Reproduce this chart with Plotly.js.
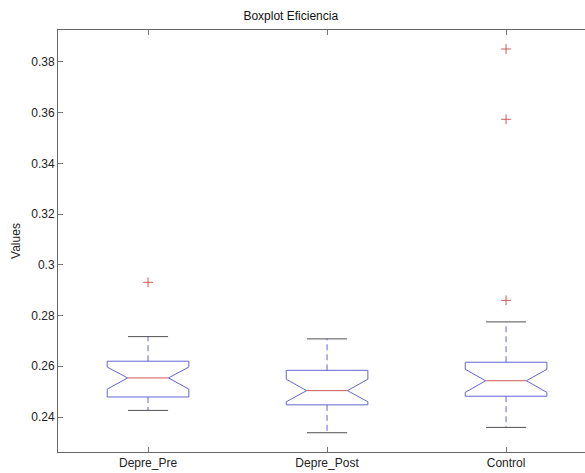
<!DOCTYPE html>
<html>
<head>
<meta charset="utf-8">
<script src="https://cdn.plot.ly/plotly-3.0.1.min.js"></script>
<style>html,body{margin:0;padding:0;background:#fff;}#chart{width:585px;height:473px;}</style>
</head>
<body>
<div id="chart"></div>
<script>
// ---- data ----
const categories = ['Depre_Pre', 'Depre_Post', 'Control'];
const lowerWhisker = [0.2426, 0.2338, 0.2359];
const q1 = [0.2479, 0.2448, 0.2482];
const notchLow = [0.2510, 0.2460, 0.2497];
const medians = [0.2554, 0.2504, 0.2543];
const notchHigh = [0.2597, 0.2549, 0.2588];
const q3 = [0.2620, 0.2584, 0.2616];
const upperWhisker = [0.2717, 0.2708, 0.2775];
const outliersDeprePre = [0.2931];
const outliersDeprePost = [];
const outliersControl = [0.2860, 0.3574, 0.3851];
const yTickVals = [0.24, 0.26, 0.28, 0.30, 0.32, 0.34, 0.36, 0.38];
const yTickText = ['0.24', '0.26', '0.28', '0.3', '0.32', '0.34', '0.36', '0.38'];

// ---- styles ----
const boxHalf = 0.228, capHalf = 0.112;
const blue = 'rgb(100,100,210)', red = 'rgb(205,90,90)', capColor = 'rgb(80,80,80)';
const outlierSets = [outliersDeprePre, outliersDeprePost, outliersControl];

const traces = [];
categories.forEach((c, i) => {
  const x = i + 1;
  const w = boxHalf, n = boxHalf / 2;
  traces.push({
    type: 'scatter', mode: 'lines', showlegend: false, hoverinfo: 'skip',
    x: [x - w, x + w, x + w, x + n, x + w, x + w, x - w, x - w, x - n, x - w, x - w],
    y: [q3[i], q3[i], notchHigh[i], medians[i], notchLow[i], q1[i], q1[i], notchLow[i], medians[i], notchHigh[i], q3[i]],
    line: {color: blue, width: 1}
  });
  traces.push({
    type: 'scatter', mode: 'lines', showlegend: false, hoverinfo: 'skip',
    x: [x - n, x + n], y: [medians[i], medians[i]],
    line: {color: red, width: 1}
  });
  traces.push({
    type: 'scatter', mode: 'lines', showlegend: false, hoverinfo: 'skip',
    x: [x, x, null, x, x], y: [q3[i], upperWhisker[i], null, q1[i], lowerWhisker[i]],
    line: {color: blue, width: 1, dash: '6px,4px'}
  });
  traces.push({
    type: 'scatter', mode: 'lines', showlegend: false, hoverinfo: 'skip',
    x: [x - capHalf, x + capHalf, null, x - capHalf, x + capHalf],
    y: [upperWhisker[i], upperWhisker[i], null, lowerWhisker[i], lowerWhisker[i]],
    line: {color: capColor, width: 1}
  });
  if (outlierSets[i].length) {
    traces.push({
      type: 'scatter', mode: 'markers', showlegend: false,
      x: outlierSets[i].map(() => x), y: outlierSets[i],
      marker: {symbol: 'cross-thin-open', size: 7, color: red, line: {color: red, width: 1}}
    });
  }
});

const font = {family: '"Liberation Sans", Arial, sans-serif', size: 12, color: '#222'};
const layout = {
  width: 585, height: 473,
  margin: {l: 58, r: 0, t: 30, b: 21, pad: 0},
  paper_bgcolor: '#fff', plot_bgcolor: '#fff',
  font: font,
  showlegend: false,
  title: {text: 'Boxplot Eficiencia', font: {family: font.family, size: 12, color: '#111'},
          xref: 'container', x: 0.497, xanchor: 'center', yref: 'container', y: 0.966, yanchor: 'middle'},
  xaxis: {
    range: [0.497, 3.441], tickvals: [1, 2, 3], ticktext: categories,
    ticks: 'inside', ticklen: 5, tickcolor: '#777', showgrid: false, zeroline: false,
    showline: true, linecolor: '#666', linewidth: 1, mirror: 'ticks',
    tickfont: {family: font.family, size: 12, color: '#222'}
  },
  yaxis: {
    range: [0.2262, 0.3926], tickvals: yTickVals, ticktext: yTickText,
    ticks: 'inside', ticklen: 5, tickcolor: '#777', showgrid: false, zeroline: false,
    showline: true, linecolor: '#666', linewidth: 1, mirror: false,
    tickfont: {family: font.family, size: 12, color: '#222'},
    title: {text: 'Values', font: {family: font.family, size: 12, color: '#222'}, standoff: 8}
  },
  yaxis2: {
    overlaying: 'y', side: 'right', matches: 'y', tickvals: yTickVals,
    showticklabels: false, ticks: 'inside', ticklen: 5, tickcolor: '#bbb',
    showline: false, showgrid: false, zeroline: false
  }
};

Plotly.newPlot('chart', traces, layout, {staticPlot: true, displayModeBar: false});
</script>
</body>
</html>
